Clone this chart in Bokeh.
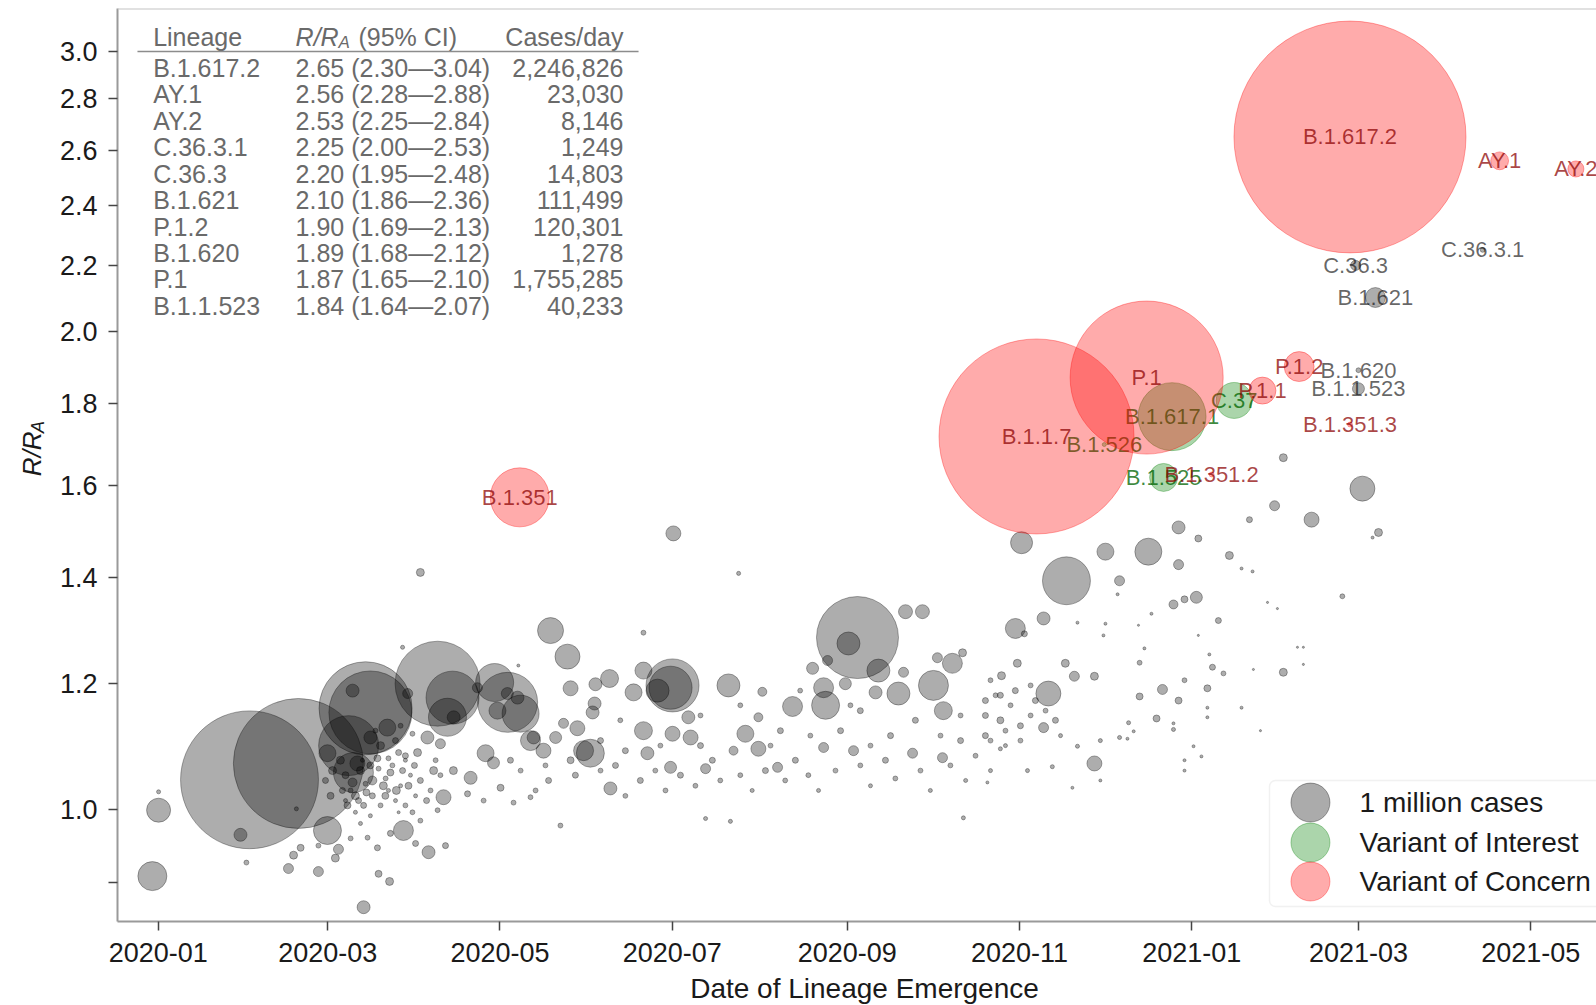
import numpy as np
import pandas as pd
from bokeh.plotting import figure
from bokeh.layouts import row, column
from bokeh.models import (Range1d, FixedTicker, DatetimeTickFormatter, CustomJSTickFormatter,
                          BoxAnnotation, Span, ColumnDataSource)
from bokeh.core.properties import value
from bokeh.embed import file_html
from bokeh.resources import INLINE

FONT = "Liberation Sans"

# ---------------- data ----------------
# Variants of concern
voc_names = ["B.1.617.2", "AY.1", "AY.2", "B.1.1.7", "P.1", "B.1.351", "P.1.2", "P.1.1", "B.1.351.3", "B.1.351.2"]
voc_dates = ["2021-02-26", "2021-04-20", "2021-05-17", "2020-11-07", "2020-12-16", "2020-05-08",
             "2021-02-08", "2021-01-26", "2021-02-26", "2021-01-08"]
voc_r = [2.65, 2.56, 2.53, 1.717, 1.87, 1.572, 1.90, 1.835, 1.747, 1.625]
voc_cases_m = [35.4, 0.21, 0.17, 25.0, 15.4, 2.29, 0.59, 0.48, 0.016, 0.016]

# Variants of interest
voi_names = ["B.1.617.1", "C.37", "B.1.526", "B.1.525"]
voi_dates = ["2020-12-25", "2021-01-16", "2020-12-01", "2020-12-22"]
voi_r = [1.767, 1.809, 1.697, 1.618]
voi_cases_m = [3.04, 0.85, 0.011, 0.515]

# Other labelled lineages
oth_names = ["C.36.3.1", "C.36.3", "B.1.621", "B.1.620", "B.1.1.523"]
oth_dates = ["2021-04-14", "2021-02-28", "2021-03-07", "2021-03-01", "2021-03-01"]
oth_r = [2.25, 2.20, 2.10, 1.89, 1.84]
oth_cases_m = [0.016, 0.066, 0.263, 0.016, 0.095]

# Unlabelled lineages: days after 2020-01-01, R/R_A, cases (millions)
gray_day = [
    32.3, 49.6, 73.4, 75.1, 98.9, 104.2, 102.4, 119.1, 123.7, 67.4, 69.1, 59.9, 0.1, -2.1, 138.9,
    144.9, 29.1, 86.8, 95.7, 146.0, 154.5, 72.7, 46.1, 56.7, 63.8, 78.0, 81.9, 31.2, 0.1, 48.9,
    68.8, 86.5, 127.5, 92.8,
    143.5, 148.4, 153.8, 150.6, 136.4, 132.9, 101.0, 110.6, 118.7, 121.2, 115.9, 95.3, 99.9, 91.8,
    97.5, 104.5, 109.5, 115.2, 125.8, 131.8, 142.4, 98.9, 92.8, 101.7, 91.1, 82.2, 77.6, 68.1,
    74.1, 62.7, 50.4, 47.9, 56.7,
    68.1, 70.9, 73.4, 75.8, 78.7, 81.5, 84.0, 69.8, 75.1, 80.5, 85.8, 78.0, 82.9, 87.5, 72.3,
    89.3, 91.1, 71.6, 66.3, 85.1, 78.7, 84.0, 87.5, 81.5, 90.0, 85.8, 76.9,
    182.4, 205.5, 171.8, 247.6, 244.4, 264.6, 270.6, 303.5, 182.1, 181.4, 176.8, 171.8, 168.3,
    201.9, 154.8, 159.8, 153.0, 128.3, 131.8, 140.7, 171.8, 173.2, 182.1, 188.5, 187.7, 207.9,
    212.5, 213.9, 224.6, 235.6, 236.3, 231.7, 237.0, 243.3, 255.0, 254.0, 262.1, 263.9, 274.5,
    278.0, 281.2, 284.8, 275.9, 212.5, 219.3, 246.2, 267.1, 277.7, 235.6, 203.7, 193.8, 181.4,
    160.1, 202.6, 193.8, 285.1, 293.6, 298.2,
    128.3, 133.6, 138.2, 147.7, 156.6, 161.9, 165.4, 170.7, 176.0, 179.6, 184.9, 190.2, 196.2,
    199.0, 206.1, 210.3, 215.0, 222.0, 225.6, 230.2, 233.8, 239.8, 248.6, 252.2, 257.5, 261.0,
    269.9, 273.4, 280.5, 285.9, 289.4, 294.7, 300.0, 292.9, 284.1, 277.0, 259.3, 252.2, 241.6,
    230.9, 220.3, 216.8, 192.0, 177.8, 165.4, 156.6, 146.0, 137.1, 124.7, 163.6, 192.0, 206.1,
    227.3, 248.6, 268.1, 284.1, 292.9, 294.7, 298.2, 245.1,
    305.7, 321.6, 335.4, 350.6, 361.3, 368.3, 361.3, 340.4, 359.5, 363.4, 367.6, 375.4, 379.3,
    386.4, 383.6, 387.5, 395.3, 398.4, 408.4, 426.4, 432.1, 430.0, 419.3, 392.8, 396.3, 403.4,
    405.5, 405.5, 398.4, 387.8, 313.5, 306.7, 315.2, 313.5, 331.5, 355.6, 353.5, 347.5, 331.5,
    324.4, 321.2, 304.2, 298.6, 361.3, 371.5, 373.3, 377.2, 363.4, 347.5, 349.2, 351.7, 347.1,
    335.4, 334.7, 325.5, 339.7, 368.3, 372.2, 333.6, 333.6, 323.7, 307.8, 316.6, 325.5, 363.4,
    363.4, 366.6, 369.4, 371.5, 371.5, 383.6, 390.3, 359.5, 359.5, 343.6, 345.4, 343.2, 340.4,
    292.9, 298.2, 301.8, 305.3, 308.9, 310.6, 314.2, 317.7, 294.7, 300.0, 305.3, 319.5, 296.5,
    303.5, 308.9,
    113.0, 123.6, 120.1, 127.2, 88.3, 75.1, 81.1, 70.5, 59.9, 104.6,
    64.5, 66.3, 68.8, 71.6, 73.7, 75.8, 77.6, 79.7, 82.2, 84.3, 86.5, 88.6, 90.7, 92.8, 95.0,
    67.0, 69.8, 72.7, 75.1, 80.4, 85.1, 65.2, 61.7, 61.0, 59.2, 87.5, 90.0, 96.4, 98.2, 99.9,
]
gray_r = [
    1.044, 1.069, 1.158, 1.151, 1.200, 1.176, 1.143, 1.202, 1.168, 1.097, 1.055, 0.970, 0.999, 0.908, 1.296,
    1.248, 0.964, 0.970, 0.940, 1.192, 1.166, 0.868, 0.918, 0.914, 0.944, 0.911, 0.901, 0.926, 1.026, 1.001,
    1.188, 1.265, 1.232, 1.410,
    1.133, 1.125, 1.151, 1.089, 1.089, 1.110, 1.018, 1.047, 1.070, 1.032, 1.085, 1.110, 1.100, 1.086,
    1.058, 1.058, 1.023, 1.013, 1.010, 1.018, 0.977, 0.999, 0.984, 0.949, 0.952, 0.966, 0.946, 0.959,
    0.960, 0.932, 0.946, 0.936, 0.949,
    1.028, 1.013, 1.038, 1.020, 1.006, 1.028, 1.013, 0.996, 0.991, 1.046, 1.035, 1.061, 1.066, 1.074, 1.074,
    1.051, 1.020, 0.980, 1.013, 0.996, 1.097, 1.105, 1.081, 1.077, 1.116, 1.129, 1.121,
    1.492, 1.408, 1.292, 1.283, 1.272, 1.332, 1.332, 1.300, 1.197, 1.193, 1.188, 1.223, 1.185,
    1.197, 1.199, 1.209, 1.085, 1.149, 1.105, 1.110, 1.121, 1.085, 1.116, 1.110, 1.143, 1.116,
    1.143, 1.186, 1.161, 1.193, 1.163, 1.227, 1.241, 1.200, 1.223, 1.185, 1.183, 1.220, 1.197,
    1.154, 1.236, 1.255, 1.246, 1.092, 1.063, 1.089, 1.085, 1.078, 1.094, 1.089, 1.061, 1.063,
    1.031, 0.983, 0.987, 0.988, 1.040, 1.092,
    1.058, 1.028, 1.043, 1.051, 1.058, 1.066, 1.020, 1.043, 1.058, 1.028, 1.051, 1.035, 1.074,
    1.043, 1.051, 1.028, 1.058, 1.043, 1.074, 1.051, 1.028, 1.058, 1.066, 1.035, 1.074, 1.046,
    1.058, 1.028, 1.066, 1.043, 1.081, 1.058, 1.121, 1.113, 1.105, 1.113, 1.113, 1.097, 1.121,
    1.113, 1.121, 1.097, 1.097, 1.097, 1.089, 1.105, 1.074, 1.066, 1.074, 1.138, 1.146, 1.163,
    1.188, 1.154, 1.138, 1.146, 1.171, 1.206, 1.180, 1.163,
    1.472, 1.393, 1.453, 1.453, 1.505, 1.481, 1.426, 1.393, 1.346, 1.356, 1.360, 1.315, 1.445,
    1.522, 1.418, 1.412, 1.553, 1.665, 1.522, 1.592, 1.494, 1.483, 1.362, 1.350, 1.338, 1.265,
    1.265, 1.234, 1.220, 1.225, 1.319, 1.290, 1.183, 1.126, 1.069, 1.190, 1.141, 1.178, 1.213,
    1.213, 1.236, 1.236, 1.214, 1.171, 1.192, 1.229, 1.218, 1.206, 1.237, 1.263, 1.328, 1.306,
    1.309, 1.287, 1.311, 1.366, 1.287, 1.252, 1.105, 1.043, 1.032, 1.058, 1.064, 1.096, 1.074,
    1.058, 1.096, 1.080, 1.143, 1.159, 1.159, 1.121, 1.123, 1.133, 1.134, 1.120, 1.108, 1.110,
    1.146, 1.138, 1.163, 1.129, 1.146, 1.171, 1.154, 1.138, 1.105, 1.097, 1.105, 1.113, 1.180,
    1.188, 1.197,
    1.193, 1.183, 1.154, 1.176, 1.183, 1.110, 1.126, 1.069, 1.085, 1.143,
    1.074, 1.051, 1.040, 1.058, 1.025, 1.043, 1.077, 1.035, 1.055, 1.028, 1.058, 1.035, 1.066, 1.043, 1.013,
    1.006, 1.020, 1.006, 1.066, 1.020, 1.086, 1.028, 1.058, 1.020, 1.043, 1.006, 0.996, 1.028, 1.074, 1.051,
]
gray_cases_m = [
    12.5, 11.1, 5.69, 4.53, 4.75, 1.85, 0.95, 0.95, 2.37, 2.37, 1.05, 0.515, 0.379, 0.553, 0.444,
    0.411, 0.111, 0.263, 0.111, 0.148, 0.111, 0.111, 0.066, 0.066, 0.066, 0.032, 0.042, 0.016, 0.011, 0.011,
    0.111, 0.011, 0.006, 0.042,
    0.066, 0.148, 0.111, 0.263, 0.148, 0.111, 0.148, 0.111, 0.095, 0.032, 0.19, 0.111, 0.066, 0.042,
    0.042, 0.042, 0.024, 0.016, 0.016, 0.016, 0.016, 0.016, 0.016, 0.024, 0.024, 0.024, 0.024, 0.016,
    0.016, 0.042, 0.032, 0.042, 0.016,
    0.016, 0.024, 0.016, 0.024, 0.016, 0.011, 0.011, 0.011, 0.011, 0.016, 0.011, 0.016, 0.016, 0.011, 0.011,
    0.011, 0.011, 0.011, 0.011, 0.006, 0.042, 0.024, 0.024, 0.016, 0.016, 0.016, 0.016,
    0.148, 0.011, 0.016, 4.42, 0.348, 0.129, 0.129, 0.263, 1.85, 1.22, 0.348, 0.19, 0.19,
    0.348, 0.111, 0.213, 0.515, 0.90, 0.263, 0.095, 0.213, 0.111, 0.148, 0.148, 0.111, 0.19,
    0.053, 0.053, 0.263, 0.263, 0.515, 0.095, 0.066, 0.095, 0.348, 0.111, 0.348, 0.066, 0.592,
    0.213, 0.263, 0.042, 0.066, 0.148, 0.066, 0.066, 0.066, 0.066, 0.066, 0.053, 0.066, 0.095,
    0.111, 0.011, 0.011, 0.011, 0.006, 0.011,
    0.016, 0.016, 0.024, 0.024, 0.016, 0.024, 0.016, 0.024, 0.016, 0.016, 0.024, 0.016, 0.024,
    0.016, 0.016, 0.011, 0.024, 0.016, 0.024, 0.016, 0.011, 0.016, 0.016, 0.011, 0.024, 0.016,
    0.016, 0.011, 0.016, 0.011, 0.016, 0.011, 0.016, 0.024, 0.024, 0.016, 0.024, 0.016, 0.024,
    0.016, 0.024, 0.016, 0.024, 0.016, 0.024, 0.024, 0.032, 0.016, 0.024, 0.016, 0.016, 0.016,
    0.016, 0.024, 0.024, 0.016, 0.024, 0.016, 0.024, 0.016,
    0.318, 1.51, 0.19, 0.479, 0.111, 0.032, 0.066, 0.066, 0.053, 0.032, 0.095, 0.024, 0.042,
    0.024, 0.006, 0.006, 0.066, 0.042, 0.148, 0.411, 0.042, 0.006, 0.016, 0.003, 0.003, 0.003,
    0.003, 0.003, 0.042, 0.003, 0.111, 0.024, 0.411, 0.066, 0.148, 0.066, 0.032, 0.032, 0.042,
    0.066, 0.042, 0.042, 0.042, 0.032, 0.032, 0.024, 0.016, 0.016, 0.016, 0.006, 0.006, 0.003,
    0.006, 0.006, 0.006, 0.006, 0.003, 0.006, 0.011, 0.006, 0.006, 0.011, 0.011, 0.011, 0.006,
    0.006, 0.006, 0.006, 0.006, 0.006, 0.006, 0.003, 0.011, 0.006, 0.011, 0.006, 0.006, 0.011,
    0.024, 0.032, 0.016, 0.024, 0.016, 0.024, 0.016, 0.024, 0.016, 0.011, 0.016, 0.011, 0.016,
    0.024, 0.016,
    0.066, 0.095, 0.19, 0.111, 0.066, 0.111, 0.19, 0.148, 0.19, 0.111,
    0.042, 0.032, 0.053, 0.042, 0.032, 0.053, 0.032, 0.042, 0.032, 0.042, 0.024, 0.032, 0.024, 0.024, 0.024,
    0.032, 0.042, 0.024, 0.032, 0.032, 0.024, 0.024, 0.042, 0.032, 0.024, 0.016, 0.016, 0.016, 0.016, 0.016,
]

# Inset table
table_lineage = ["B.1.617.2", "AY.1", "AY.2", "C.36.3.1", "C.36.3", "B.1.621", "P.1.2", "B.1.620", "P.1", "B.1.1.523"]
table_r = [2.65, 2.56, 2.53, 2.25, 2.20, 2.10, 1.90, 1.89, 1.87, 1.84]
table_lo = [2.30, 2.28, 2.25, 2.00, 1.95, 1.86, 1.69, 1.68, 1.65, 1.64]
table_hi = [3.04, 2.88, 2.84, 2.53, 2.48, 2.36, 2.13, 2.12, 2.10, 2.07]
table_cases = [2246826, 23030, 8146, 1249, 14803, 111499, 120301, 1278, 1755285, 40233]

legend_labels = ["1 million cases", "Variant of Interest", "Variant of Concern"]
legend_cases_m = 1.0

x_title = "Date of Lineage Emergence"
y_ticks = [0.9, 1.0, 1.2, 1.4, 1.6, 1.8, 2.0, 2.2, 2.4, 2.6, 2.8, 3.0]
x_ticks = pd.date_range("2020-01-01", "2021-05-01", freq="2MS")

# ---------------- helpers ----------------
ORIGIN = pd.Timestamp("2020-01-01")
PX_PER_SQRT_MILLION = 39.0


def size_px(cases_m):
    return PX_PER_SQRT_MILLION * np.sqrt(np.asarray(cases_m, dtype=float))


def ms(ts):
    return pd.Timestamp(ts).value / 1e6


X0 = ORIGIN - pd.Timedelta(days=14.45)
X1 = ORIGIN + pd.Timedelta(days=509.3)
Y0, Y1 = 0.8502, 3.1923
x0_ms, x1_ms = ms(X0), ms(X1)
ly0, ly1 = np.log10(Y0), np.log10(Y1)


def ax_x(f):
    return x0_ms + f * (x1_ms - x0_ms)


def ax_y(f):
    return 10 ** (ly0 + f * (ly1 - ly0))


# layout sizes (pixels)
TOTAL_W, TOP_H, XLAB_H, YLAB_W = 1596, 973, 31, 56
FRAME_LEFT, FRAME_TOP, FRAME_BOTTOM = 117, 8, 921

# ---------------- main figure ----------------
p = figure(width=TOTAL_W - YLAB_W, height=TOP_H, x_axis_type="datetime", y_axis_type="log",
           x_range=Range1d(X0, X1), y_range=Range1d(Y0, Y1),
           output_backend="svg", toolbar_location=None,
           min_border_left=FRAME_LEFT - YLAB_W, min_border_right=0,
           min_border_top=FRAME_TOP, min_border_bottom=TOP_H - FRAME_BOTTOM)
p.outline_line_color = None
p.xgrid.visible = False
p.ygrid.visible = False
p.background_fill_color = "white"
p.border_fill_color = "white"

for ax in (p.xaxis[0], p.yaxis[0]):
    ax.axis_line_color = "#9a9a9a"
    ax.axis_line_width = 2
    ax.major_tick_line_color = "#444444"
    ax.major_tick_line_width = 1.5
    ax.major_tick_in = 0
    ax.major_tick_out = 9
    ax.minor_tick_line_color = None
    ax.major_label_text_font = FONT
    ax.major_label_text_font_size = "27px"
    ax.major_label_text_color = "#1a1a1a"

p.xaxis.major_label_standoff = 12
p.yaxis.major_label_standoff = 11
p.xaxis.ticker = FixedTicker(ticks=[ms(t) for t in x_ticks])
p.xaxis.formatter = DatetimeTickFormatter(days="%Y-%m", months="%Y-%m", years="%Y-%m")
p.yaxis.ticker = FixedTicker(ticks=y_ticks)
p.yaxis.formatter = CustomJSTickFormatter(code="return tick < 0.95 ? '' : tick.toFixed(1);")

# top spine
p.add_layout(Span(location=Y1, dimension="width", line_color="#c4c4c4", line_width=2))


def group_source(dates, r, cases, names=None):
    data = dict(x=pd.to_datetime(dates), y=list(r), size=size_px(cases))
    if names is not None:
        data["name"] = list(names)
    return ColumnDataSource(data)


# gray lineages
gray_src = ColumnDataSource(dict(
    x=ORIGIN + pd.to_timedelta(np.asarray(gray_day, dtype=float), unit="D"),
    y=gray_r, size=size_px(gray_cases_m)))
p.scatter("x", "y", size="size", source=gray_src, fill_color="black", fill_alpha=0.32,
          line_color="black", line_alpha=0.32, line_width=1)

oth_src = group_source(oth_dates, oth_r, oth_cases_m, oth_names)
p.scatter("x", "y", size="size", source=oth_src, fill_color="black", fill_alpha=0.32,
          line_color="black", line_alpha=0.32, line_width=1)
p.text("x", "y", text="name", source=oth_src, text_align="center", text_baseline="middle",
       text_font=value(FONT), text_font_size="22px", text_color="black", text_alpha=0.6)

# variants of interest
voi_src = group_source(voi_dates, voi_r, voi_cases_m, voi_names)
p.scatter("x", "y", size="size", source=voi_src, fill_color="green", fill_alpha=0.33,
          line_color="green", line_alpha=0.33, line_width=1)
p.text("x", "y", text="name", source=voi_src, text_align="center", text_baseline="middle",
       text_font=value(FONT), text_font_size="22px", text_color="darkgreen", text_alpha=0.75)

# variants of concern
voc_src = group_source(voc_dates, voc_r, voc_cases_m, voc_names)
p.scatter("x", "y", size="size", source=voc_src, fill_color="red", fill_alpha=0.33,
          line_color="red", line_alpha=0.33, line_width=1)
p.text("x", "y", text="name", source=voc_src, text_align="center", text_baseline="middle",
       text_font=value(FONT), text_font_size="22px", text_color="darkred", text_alpha=0.72)

# ---------------- inset table ----------------
TABLE_COLOR = "#6a6a6a"
row_fy = [0.9351 - i * 0.02899 for i in range(len(table_lineage))]
head_fy = 0.9687
tbl_kw = dict(text_baseline="middle", text_font=value(FONT), text_font_size="25px",
              text_color=TABLE_COLOR)
p.text(x=[ax_x(0.0241)], y=[ax_y(head_fy)], text=["Lineage"], text_align="left", **tbl_kw)
p.text(x=[ax_x(0.1204)], y=[ax_y(head_fy)], text=["R/R"], text_align="left",
       text_font_style="italic", **tbl_kw)
p.text(x=[ax_x(0.1494)], y=[ax_y(0.9632)], text=["A"], text_align="left",
       text_font_style="italic", text_baseline="middle", text_font=value(FONT),
       text_font_size="17px", text_color=TABLE_COLOR)
p.text(x=[ax_x(0.1629)], y=[ax_y(head_fy)], text=["(95% CI)"], text_align="left", **tbl_kw)
p.text(x=[ax_x(0.3421)], y=[ax_y(head_fy)], text=["Cases/day"], text_align="right", **tbl_kw)
p.segment(x0=[ax_x(0.0135)], y0=[ax_y(0.9529)], x1=[ax_x(0.3523)], y1=[ax_y(0.9529)],
          line_color="#8c8c8c", line_width=1.5)

row_y = [ax_y(f) for f in row_fy]
p.text(x=[ax_x(0.0241)] * len(row_y), y=row_y, text=table_lineage, text_align="left", **tbl_kw)
p.text(x=[ax_x(0.1204)] * len(row_y), y=row_y,
       text=[f"{r:.2f} ({lo:.2f}\u2014{hi:.2f})" for r, lo, hi in zip(table_r, table_lo, table_hi)],
       text_align="left", **tbl_kw)
p.text(x=[ax_x(0.3421)] * len(row_y), y=row_y, text=[f"{c:,}" for c in table_cases],
       text_align="right", **tbl_kw)

# ---------------- legend ----------------
p.add_layout(BoxAnnotation(left=ax_x(0.7789), right=ax_x(1.02), top=ax_y(0.1544), bottom=ax_y(0.0164),
                           fill_color="white", fill_alpha=0.85, line_color="#cfcfcf", line_width=1.5,
                           level="underlay", border_radius=6))
leg_fy = [0.1303, 0.0865, 0.0438]
leg_colors = ["black", "green", "red"]
for fy, col, lab in zip(leg_fy, leg_colors, legend_labels):
    p.scatter(x=[ax_x(0.8066)], y=[ax_y(fy)], size=float(size_px(legend_cases_m)),
              fill_color=col, fill_alpha=0.33, line_color=col, line_alpha=0.33, line_width=1)
    p.text(x=[ax_x(0.8398)], y=[ax_y(fy)], text=[lab], text_align="left", text_baseline="middle",
           text_font=value(FONT), text_font_size="28px", text_color="#1a1a1a")


# ---------------- axis titles (separate strips, pixel coordinates) ----------------
def strip(w, h):
    f = figure(width=w, height=h, x_range=Range1d(0, w), y_range=Range1d(0, h),
               output_backend="svg", toolbar_location=None,
               x_axis_location=None, y_axis_location=None,
               min_border_left=0, min_border_right=0, min_border_top=0, min_border_bottom=0)
    f.outline_line_color = None
    f.xgrid.visible = False
    f.ygrid.visible = False
    f.background_fill_color = "white"
    f.border_fill_color = "white"
    return f


ylab = strip(YLAB_W, TOP_H)
ylab.text(x=[31], y=[TOP_H - 474.5], text=["R/R"], angle=np.pi / 2, text_align="center",
          text_baseline="middle", text_font=value(FONT), text_font_style="italic",
          text_font_size="26px", text_color="#1a1a1a")
ylab.text(x=[37], y=[TOP_H - 446], text=["A"], angle=np.pi / 2, text_align="center",
          text_baseline="middle", text_font=value(FONT), text_font_style="italic",
          text_font_size="18px", text_color="#1a1a1a")

xlab = strip(TOTAL_W, XLAB_H)
xlab.text(x=[864], y=[XLAB_H - 15], text=[x_title], text_align="center", text_baseline="middle",
          text_font=value(FONT), text_font_size="28px", text_color="#1a1a1a")

layout = column(row(ylab, p, spacing=0), xlab, spacing=0)

open("out.html", "w").write(file_html(layout, INLINE))
